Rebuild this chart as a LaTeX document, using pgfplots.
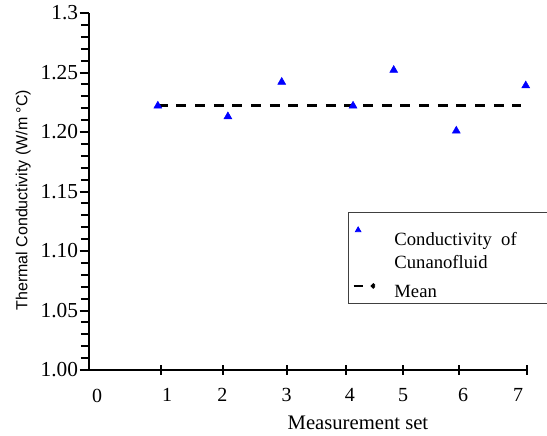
\documentclass[border=0pt]{standalone}
\usepackage{fontspec}
\setmainfont{Liberation Serif}
\newfontfamily\arialfont{Liberation Sans}
\usepackage{pgfplots}
\pgfplotsset{compat=1.18}
\begin{document}
\begin{tikzpicture}
\path[use as bounding box] (-66.75pt,-49.5pt) rectangle (343.5pt,277.5pt);
\begin{scope}
\clip (-66.75pt,-49.5pt) rectangle (343.5pt,277.5pt);
\begin{axis}[
  scale only axis, width=328.5pt, height=267.75pt,
  xmin=0, xmax=7, ymin=1.0, ymax=1.3,
  axis x line=bottom, axis y line=left,
  axis line style={line width=2pt, -},
  clip=false,
  ytick={1.00,1.05,1.10,1.15,1.20,1.25,1.30},
  yticklabels={1.00,1.05,1.10,1.15,1.20,1.25,1.3},
  minor y tick num=4,
  yticklabel style={font=\fontsize{16}{18}\selectfont, inner sep=1pt},
  ytick align=outside,
  major tick length=7pt, minor tick length=6pt,
  tick style={line width=1.5pt, black},
  xtick align=center,
  xtick={1.15,2.14,3.16,4.11,5.02,5.91,7.0},
  xticklabels={},
  extra x ticks={0.13,1.25,2.13,3.16,4.17,5.02,5.98,6.86},
  extra x tick labels={0,1,2,3,4,5,6,7},
  extra x tick style={tick style={draw=none},
    xticklabel style={font=\fontsize{15}{17}\selectfont, yshift=-7pt}},
  xlabel={Measurement set},
  xlabel style={font=\fontsize{15.5}{17}\selectfont,
    at={(axis description cs:0.614,0)}, anchor=center, yshift=-39.75pt},
  ylabel={\arialfont Thermal Conductivity (W/m °C)},
  ylabel style={font=\fontsize{12}{14}\selectfont,
    at={(axis description cs:-0.150,0.476)}, anchor=center},
  legend style={at={(0.591,0.443)}, anchor=north west, draw=black!75,
    line width=0.6pt, font=\fontsize{14}{17}\selectfont,
    inner xsep=3pt, inner ysep=11pt, row sep=2.5pt, column sep=12pt,
    cells={anchor=west}},
]
\addplot[only marks, mark=triangle*, mark size=3.4pt, color=blue,
  legend image code/.code={\draw[mark size=2.4pt, mark=triangle*, blue]
    plot coordinates {(0.05cm,0.25cm)};}]
  coordinates {(1.10,1.222) (2.22,1.213) (3.08,1.242) (4.22,1.222)
               (4.87,1.252) (5.87,1.201) (6.98,1.239)};
\addlegendentry{\makebox[150pt][l]{Conductivity\ \ of}}
\addlegendimage{empty legend}
\addlegendentry{Cunanofluid}
\addplot[black, line width=2pt, dash pattern=on 7.5pt off 6.5pt,
  legend image code/.code={\draw[line width=2pt] (-0.07cm,-0.14cm) -- (0.17cm,-0.14cm);
    \fill (0.45cm,-0.14cm) circle (0.8pt);}]
  coordinates {(1.10,1.222) (6.91,1.222)};
\addlegendentry{\raisebox{-13.5pt}[0pt][16pt]{Mean}}
\end{axis}
\end{scope}
\end{tikzpicture}
\end{document}
